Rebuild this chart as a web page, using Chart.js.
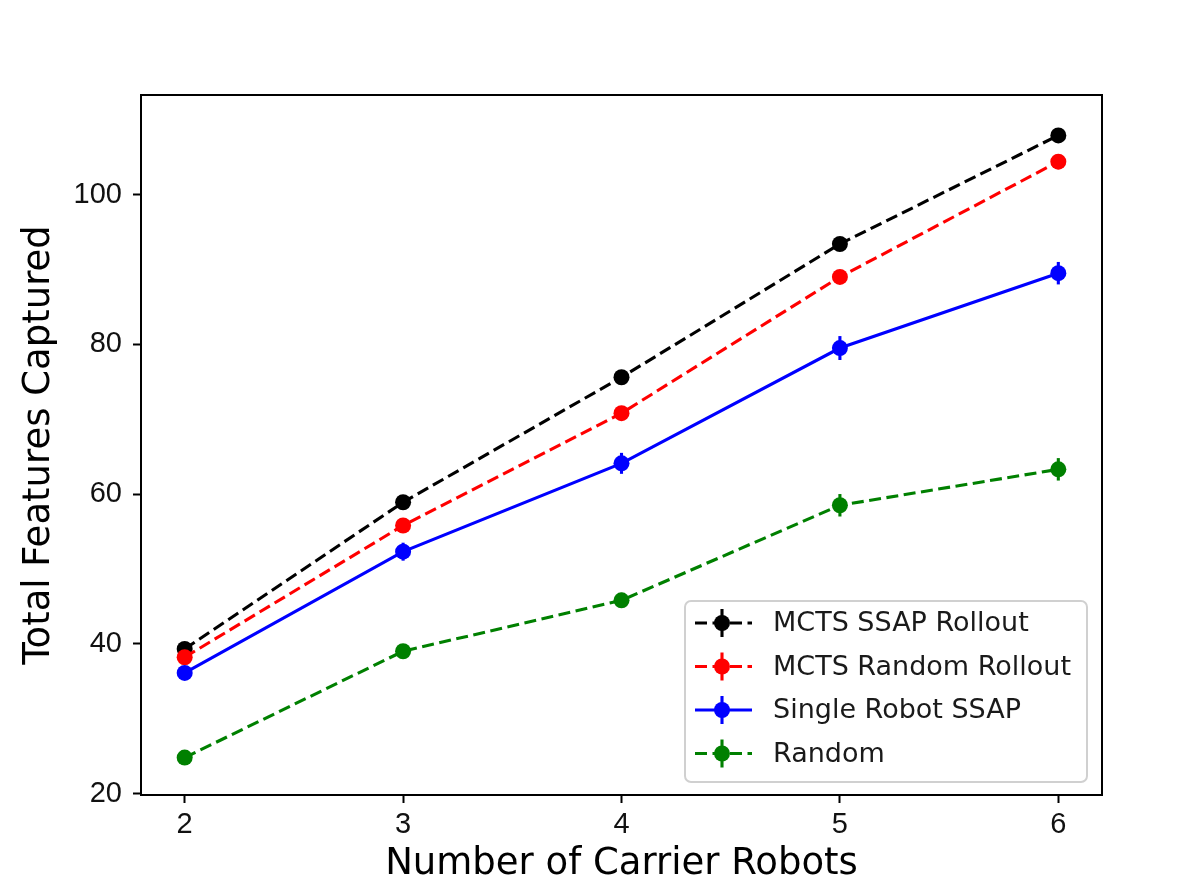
<!DOCTYPE html>
<html>
<head>
<meta charset="utf-8">
<script src="https://cdn.jsdelivr.net/npm/chart.js@4.4.0/dist/chart.umd.min.js"></script>
<style>
  html, body { margin: 0; padding: 0; background: #fff; }
  canvas { display: block; }
</style>
</head>
<body>
<canvas id="myChart" width="1196" height="896"></canvas>
<script>
// data
var robots = [2, 3, 4, 5, 6];
var xTicks = [2, 3, 4, 5, 6];
var yTicks = [20, 40, 60, 80, 100];

var seriesNames = ['MCTS SSAP Rollout', 'MCTS Random Rollout', 'Single Robot SSAP', 'Random'];

var ssapRollout = [39.3, 58.9, 75.6, 93.4, 107.9];
var ssapRolloutErr = [0.6, 0.8, 0.8, 0.9, 0.9];

var randomRollout = [38.2, 55.8, 70.8, 89.0, 104.4];
var randomRolloutErr = [0.6, 0.8, 0.9, 0.9, 1.0];

var singleSsap = [36.1, 52.3, 64.1, 79.5, 89.5];
var singleSsapErr = [0.6, 1.2, 1.4, 1.6, 1.5];

var randomPlan = [24.8, 39.0, 45.8, 58.5, 63.3];
var randomPlanErr = [0.5, 0.9, 1.0, 1.5, 1.5];

var dash = [12, 5.5];
var lineW = 3.1;

function points(values) {
  var pts = [];
  for (var i = 0; i < robots.length; i++) {
    pts.push({ x: robots[i], y: values[i] });
  }
  return pts;
}

function makeDataset(label, values, errors, color, dashed, order) {
  return {
    label: label,
    data: points(values),
    errors: errors,
    borderColor: color,
    backgroundColor: color,
    pointBackgroundColor: color,
    pointBorderColor: color,
    pointBorderWidth: 0,
    pointRadius: 8,
    pointHoverRadius: 8,
    borderWidth: lineW,
    borderDash: dashed ? dash : [],
    dashed: dashed,
    tension: 0,
    fill: false,
    order: order
  };
}

const chart_data = {
  datasets: [
    makeDataset(seriesNames[0], ssapRollout, ssapRolloutErr, '#000000', true, 4),
    makeDataset(seriesNames[1], randomRollout, randomRolloutErr, '#ff0000', true, 3),
    makeDataset(seriesNames[2], singleSsap, singleSsapErr, '#0000ff', false, 2),
    makeDataset(seriesNames[3], randomPlan, randomPlanErr, '#008000', true, 1)
  ]
};

// vertical error bars, drawn right after each dataset
const errorBars = {
  id: 'errorBars',
  afterDatasetDraw: function (chart, args) {
    var ds = chart.data.datasets[args.index];
    var xs = chart.scales.x, ys = chart.scales.y;
    var ctx = chart.ctx;
    ctx.save();
    ctx.strokeStyle = ds.borderColor;
    ctx.lineWidth = lineW;
    ctx.setLineDash([]);
    for (var i = 0; i < ds.data.length; i++) {
      var px = xs.getPixelForValue(ds.data[i].x);
      var top = ys.getPixelForValue(ds.data[i].y + ds.errors[i]);
      var bot = ys.getPixelForValue(ds.data[i].y - ds.errors[i]);
      ctx.beginPath();
      ctx.moveTo(px, top);
      ctx.lineTo(px, bot);
      ctx.stroke();
    }
    ctx.restore();
  }
};

// axes frame and matplotlib style legend inside the plot
const frameAndLegend = {
  id: 'frameAndLegend',
  afterDraw: function (chart) {
    var ctx = chart.ctx;
    var a = chart.chartArea;
    ctx.save();
    ctx.strokeStyle = '#000';
    ctx.lineWidth = 2;
    ctx.setLineDash([]);
    ctx.strokeRect(a.left, a.top, a.right - a.left, a.bottom - a.top);

    // legend box
    var bw = 402, bh = 181;
    var bx = a.right - 15 - bw, by = a.bottom - 13 - bh;
    ctx.beginPath();
    ctx.roundRect(bx, by, bw, bh, 6);
    ctx.fillStyle = 'rgba(255,255,255,0.8)';
    ctx.fill();
    ctx.strokeStyle = '#d0d0d0';
    ctx.lineWidth = 2;
    ctx.stroke();

    ctx.font = '27px "DejaVu Sans"';
    ctx.textBaseline = 'middle';
    ctx.textAlign = 'left';
    var sets = chart.data.datasets;
    for (var i = 0; i < sets.length; i++) {
      var ds = sets[i];
      var cy = by + 22 + i * 43.5;
      var mx = bx + 37;
      ctx.strokeStyle = ds.borderColor;
      ctx.lineWidth = lineW;
      ctx.setLineDash(ds.dashed ? dash : []);
      ctx.beginPath();
      ctx.moveTo(bx + 10, cy);
      ctx.lineTo(bx + 67, cy);
      ctx.stroke();
      ctx.setLineDash([]);
      ctx.beginPath();
      ctx.moveTo(mx, cy - 14);
      ctx.lineTo(mx, cy + 14);
      ctx.stroke();
      ctx.beginPath();
      ctx.arc(mx, cy, 8, 0, Math.PI * 2);
      ctx.fillStyle = ds.borderColor;
      ctx.fill();
      ctx.fillStyle = '#1a1a1a';
      ctx.fillText(ds.label, bx + 88, cy + 1);
    }
    ctx.restore();
  }
};

const config = {
  type: 'line',
  data: chart_data,
  plugins: [errorBars, frameAndLegend],
  options: {
    responsive: false,
    animation: false,
    devicePixelRatio: 1,
    layout: { padding: { top: 95, right: 94, left: 0, bottom: 0 } },
    plugins: {
      legend: { display: false },
      tooltip: { enabled: false }
    },
    scales: {
      x: {
        type: 'linear',
        min: 1.8,
        max: 6.2,
        afterBuildTicks: function (scale) {
          scale.ticks = xTicks.map(function (v) { return { value: v }; });
        },
        afterFit: function (scale) { scale.height = 101; },
        grid: {
          drawOnChartArea: false,
          drawTicks: true,
          tickLength: 8,
          tickColor: '#000',
          tickWidth: 2
        },
        border: { display: false },
        ticks: {
          color: '#111',
          padding: 5,
          font: { family: '"Liberation Sans", Arial, sans-serif', size: 29 },
          maxRotation: 0
        },
        title: {
          display: true,
          text: 'Number of Carrier Robots',
          color: '#000',
          font: { family: '"DejaVu Sans"', size: 37 },
          padding: { top: 0, bottom: 9 }
        }
      },
      y: {
        min: 19.8,
        max: 113.3,
        afterBuildTicks: function (scale) {
          scale.ticks = yTicks.map(function (v) { return { value: v }; });
        },
        afterFit: function (scale) { scale.width = 141; },
        grid: {
          drawOnChartArea: false,
          drawTicks: true,
          tickLength: 8,
          tickColor: '#000',
          tickWidth: 2
        },
        border: { display: false },
        ticks: {
          color: '#111',
          padding: 11,
          font: { family: '"Liberation Sans", Arial, sans-serif', size: 29 }
        },
        title: {
          display: true,
          text: 'Total Features Captured',
          color: '#000',
          font: { family: '"DejaVu Sans"', size: 37 },
          padding: { top: 17, bottom: 0 }
        }
      }
    }
  }
};

const myChart = new Chart(
  document.getElementById('myChart'),
  config
);
</script>
</body>
</html>
